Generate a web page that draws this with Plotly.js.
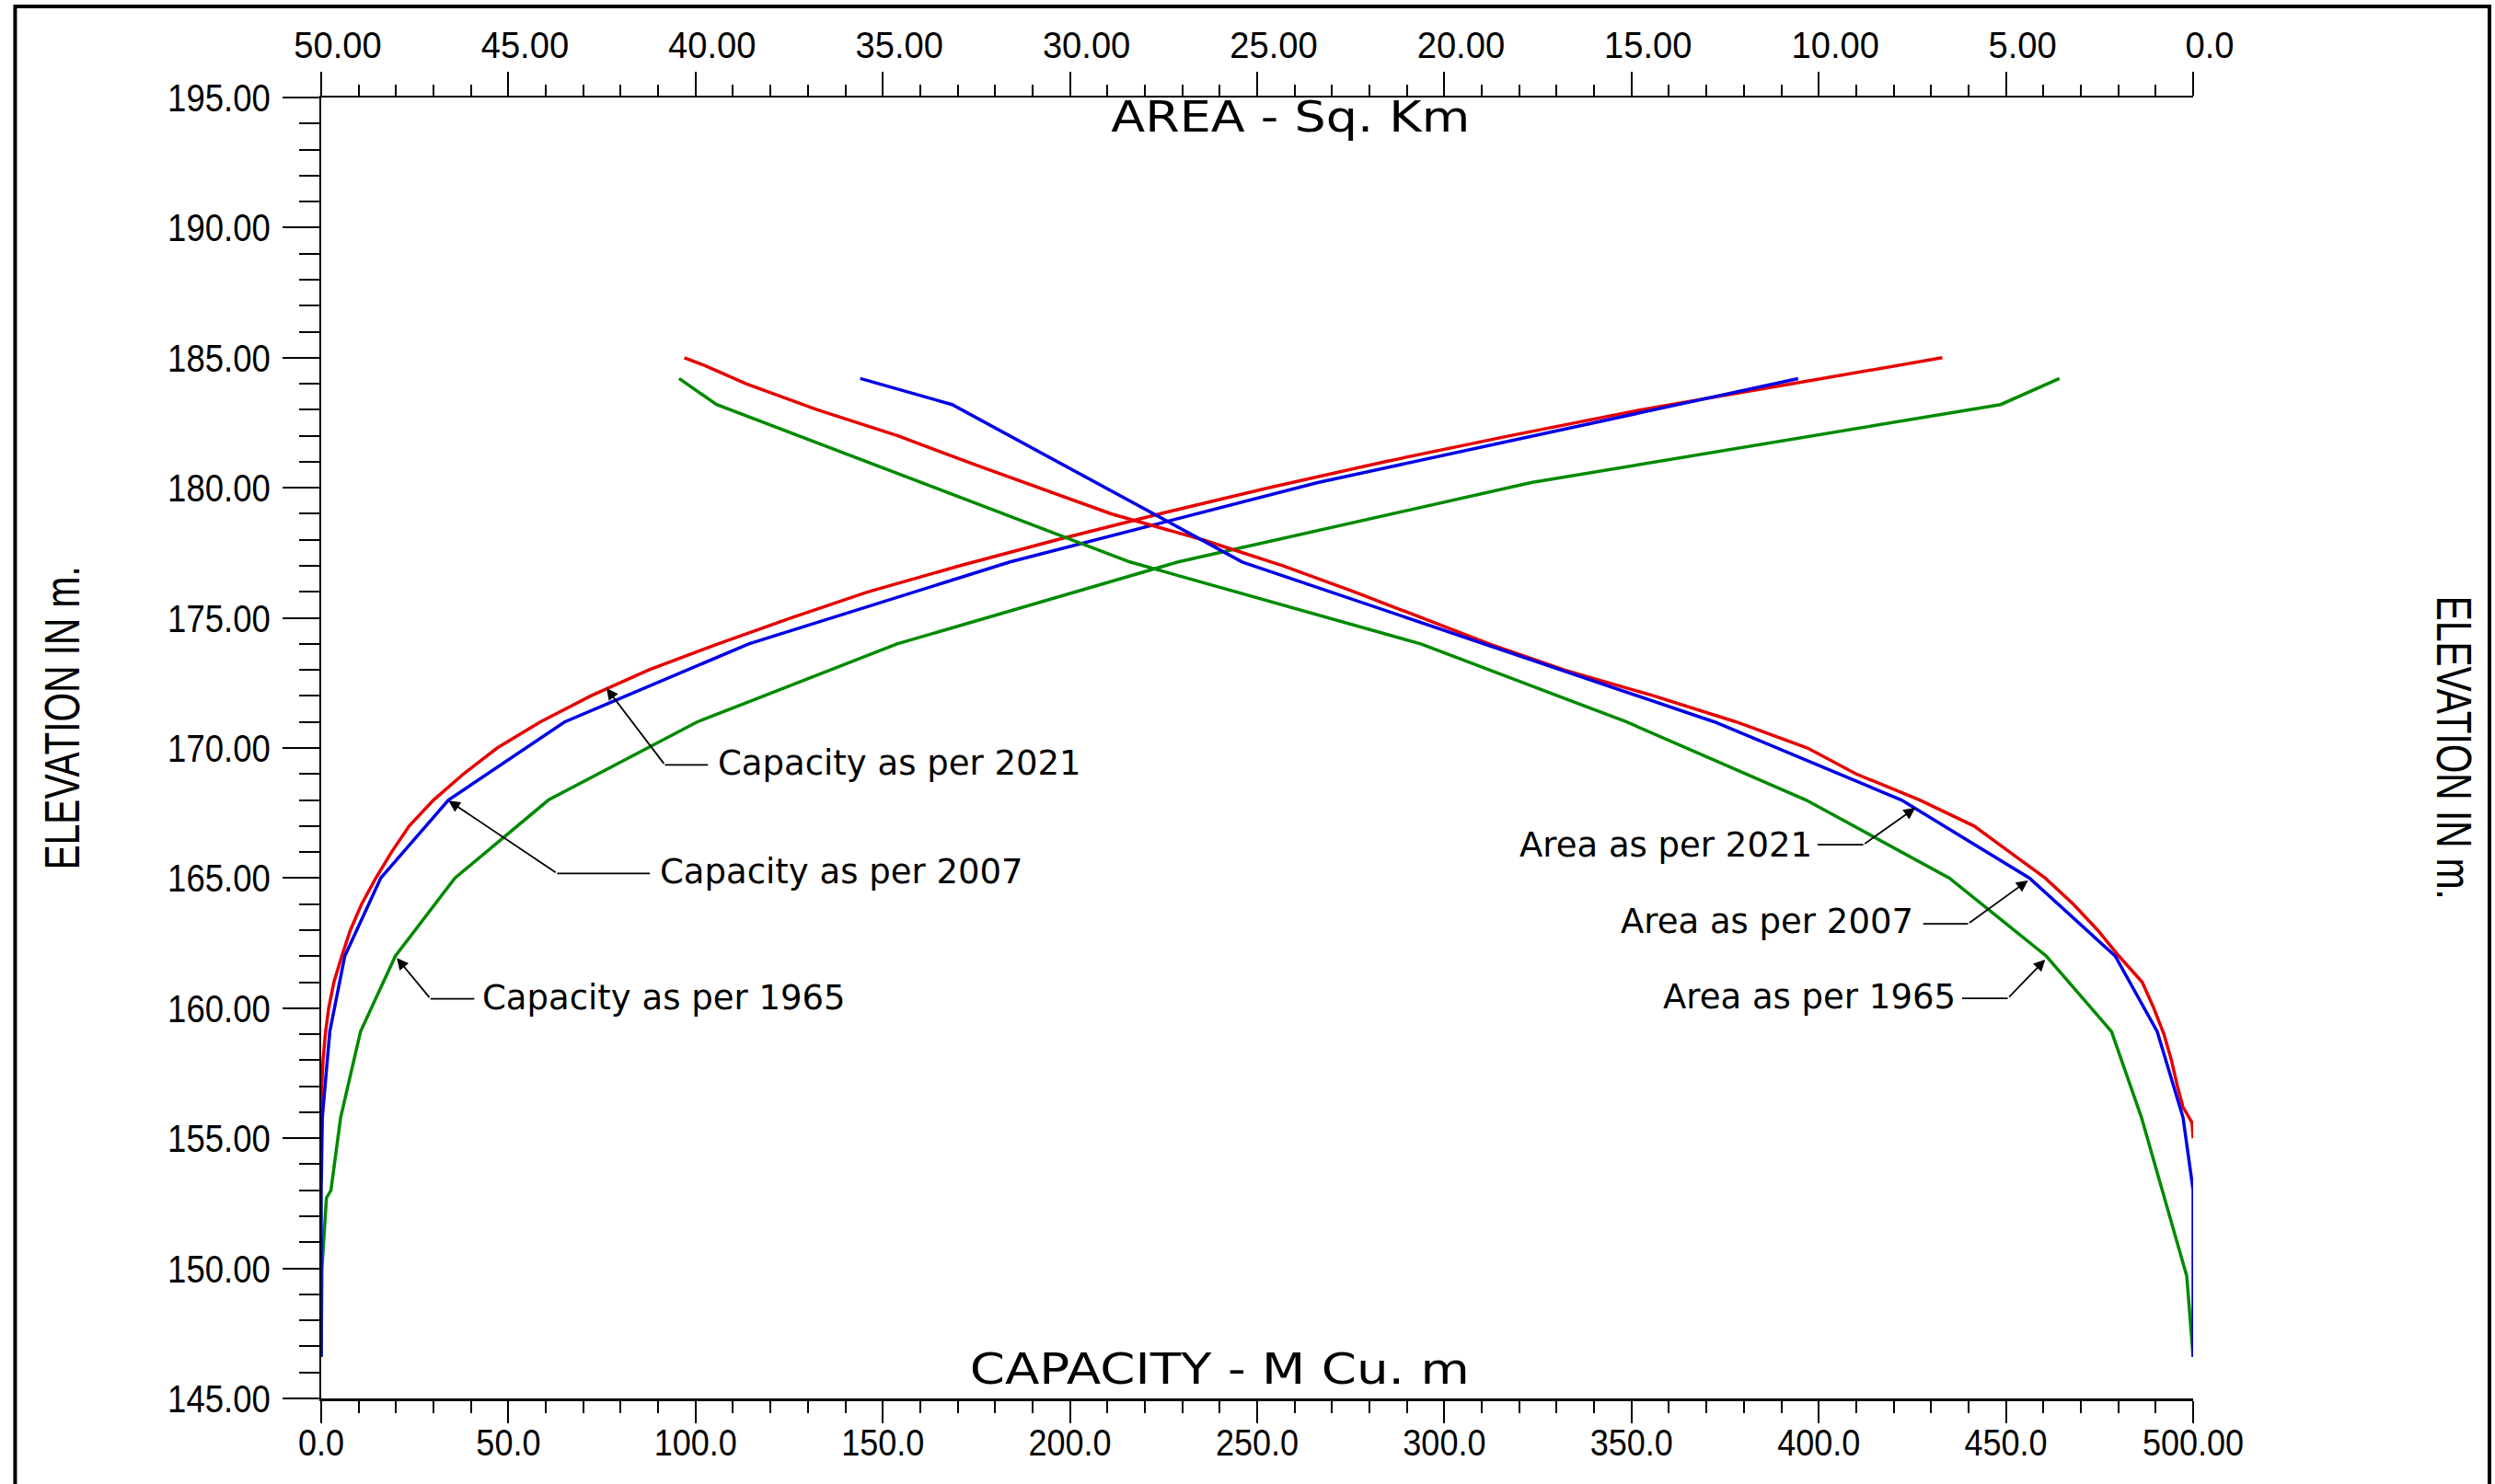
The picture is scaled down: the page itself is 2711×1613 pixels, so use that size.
<!DOCTYPE html>
<html>
<head>
<meta charset="utf-8">
<script src="https://cdn.plot.ly/plotly-3.0.1.min.js"></script>
<style>html,body{margin:0;padding:0;background:#fff;} #chart{width:2711px;height:1613px;}</style>
</head>
<body>
<div id="chart"></div>
<script>
// ---------------- DATA ----------------
// Capacity (M Cu. m) vs elevation (m)
const cap2021Elev = [155,156,157,158,159,160,161,162,163,164,165,166,167,168,169,170,171,172,173,174,175,176,177,178,179,180,181,182,183,184,185];
const cap2021     = [0,0.1,0.15,0.5,1.1,2.0,3.4,5.5,7.8,10.8,14.6,18.8,23.5,30.0,38.0,47.0,58.5,72.0,87.5,106.0,125.5,146.0,170.5,196.5,224.0,253.0,284.0,317.5,352.5,393.0,433.0];

const cap2007Elev = [146.6,153.0,155.8,159.1,162.0,165.0,168.0,171.0,174.0,177.15,180.2,184.2];
const cap2007     = [0,0,0.3,2.3,6.3,15.9,34.0,65.0,114.2,184.0,266.2,394.5];

const cap1965Elev = [146.6,150.0,152.7,153.0,155.8,159.1,162.0,165.0,168.0,171.0,174.0,177.15,180.2,183.2,184.2];
const cap1965     = [0,0.2,1.4,2.6,5.2,10.5,19.8,35.7,60.7,100.4,153.8,228.9,323.2,448.6,464.3];

// Area (Sq. Km) vs elevation (m)
const area2021Elev = [155,155.6,156.2,157,158,159,160,161,162,163,164,165,166,167,168,169,170,171,172,173,174,175,176,177,178,179,180,181,182,183,184,184.7,185];
const area2021     = [0,0.03,0.27,0.42,0.58,0.78,1.05,1.36,1.98,2.55,3.2,3.95,4.9,5.85,7.3,9.0,10.3,12.2,14.4,16.8,18.8,20.6,22.4,24.3,26.45,28.9,30.85,32.75,34.6,36.75,38.65,39.75,40.3];

const area2007Elev = [146.6,153.0,155.8,159.1,162.0,165.0,168.0,171.0,177.15,183.2,184.2];
const area2007     = [0,0,0.27,0.96,2.08,4.37,7.79,12.78,25.4,33.15,35.6];

const area1965Elev = [146.6,149.7,155.8,159.1,162.0,165.0,168.0,171.0,174.0,177.15,183.2,184.2];
const area1965     = [0,0.17,1.38,2.18,3.92,6.51,10.34,15.13,20.63,28.4,39.44,40.44];

// Tick values / labels
const capTickVals  = [0,50,100,150,200,250,300,350,400,450,500];
const capTickText  = ['0.0','50.0','100.0','150.0','200.0','250.0','300.0','350.0','400.0','450.0','500.00'];
const areaTickVals = [50,45,40,35,30,25,20,15,10,5,0];
const areaTickText = ['50.00','45.00','40.00','35.00','30.00','25.00','20.00','15.00','10.00','5.00','0.0'];
const elevTickVals = [145,150,155,160,165,170,175,180,185,190,195];
const elevTickText = ['145.00','150.00','155.00','160.00','165.00','170.00','175.00','180.00','185.00','190.00','195.00'];

const seriesNames = ['Capacity as per 1965','Area as per 1965','Capacity as per 2021','Area as per 2021','Capacity as per 2007','Area as per 2007'];

// ---------------- STYLE ----------------
const RED = '#e60000', BLUE = '#0000e6', GREEN = '#008a00';
const LW = 3.5;
const SANS = 'Liberation Sans, Arial, sans-serif';
const WIDE = 'DejaVu Sans, Verdana, sans-serif';

function tr(x, y, xa, color, name) {
  return {x: x, y: y, xaxis: xa, yaxis: 'y', type: 'scatter', mode: 'lines',
          line: {color: color, width: LW}, name: name, hoverinfo: 'skip'};
}
const traces = [
  tr(cap1965, cap1965Elev, 'x', GREEN, seriesNames[0]),
  tr(area1965, area1965Elev, 'x2', GREEN, seriesNames[1]),
  tr(cap2021, cap2021Elev, 'x', RED, seriesNames[2]),
  tr(area2021, area2021Elev, 'x2', RED, seriesNames[3]),
  tr(cap2007, cap2007Elev, 'x', BLUE, seriesNames[4]),
  tr(area2007, area2007Elev, 'x2', BLUE, seriesNames[5])
];

const axCommon = {
  ticks: 'outside', tickwidth: 2, tickcolor: '#000',
  showline: true, linecolor: '#000', linewidth: 2.5,
  showgrid: false, zeroline: false, fixedrange: true, automargin: false
};
function minor(dtick, len) {
  return {tickmode: 'linear', tick0: 0, dtick: dtick, ticks: 'outside', ticklen: len,
          tickwidth: 2, tickcolor: '#000', showgrid: false};
}

// Leader-line callouts: [text, axis, tipX, tipY, elbowX, elbowY, lineEndX, textX, textY, anchor]
const callouts = [
  ['Capacity as per 2021', 'x', 76.2, 172.3, 91.8, 169.35, 103.3, 105.4, 169.4, 'left'],
  ['Capacity as per 2007', 'x', 34.0, 167.98, 63.0, 165.18, 87.8, 89.9, 165.24, 'left'],
  ['Capacity as per 1965', 'x', 20.2, 161.93, 29.2, 160.36, 40.9, 42.6, 160.39, 'left'],
  ['Area as per 2021', 'x2', 7.42, 167.7, 8.81, 166.28, 10.03, 10.12, 166.27, 'right'],
  ['Area as per 2007', 'x2', 4.41, 164.91, 6.01, 163.24, 7.21, 7.42, 163.32, 'right'],
  ['Area as per 1965', 'x2', 3.95, 161.87, 4.95, 160.38, 6.17, 6.30, 160.44, 'right']
];

const annotations = [];
const shapes = [
  {type: 'rect', xref: 'paper', yref: 'paper', x0: -0.1635, x1: 1.1583, y0: -0.3, y1: 1.0700,
   line: {color: '#000', width: 4}, fillcolor: 'rgba(0,0,0,0)', layer: 'above'}
];
callouts.forEach(function (c) {
  annotations.push({xref: c[1], yref: 'y', axref: c[1], ayref: 'y', x: c[2], y: c[3], ax: c[4], ay: c[5],
    text: '', showarrow: true, arrowhead: 2, arrowsize: 1.4, arrowwidth: 1.8, arrowcolor: '#000', standoff: 0});
  shapes.push({type: 'line', xref: c[1], yref: 'y', x0: c[4], y0: c[5], x1: c[6], y1: c[5],
    line: {color: '#000', width: 1.8}});
  annotations.push({xref: c[1], yref: 'y', x: c[7], y: c[8], text: c[0], showarrow: false,
    xanchor: c[9], yanchor: 'middle', font: {family: WIDE, size: 37, color: '#000'}});
});

annotations.push(
  {xref: 'paper', yref: 'paper', x: 0.5177, y: 0.985, text: 'AREA - Sq. Km', showarrow: false,
   xanchor: 'center', yanchor: 'middle', font: {family: WIDE, size: 46, color: '#000'}},
  {xref: 'paper', yref: 'paper', x: 0.480, y: 0.0226, text: 'CAPACITY - M Cu. m', showarrow: false,
   xanchor: 'center', yanchor: 'middle', font: {family: WIDE, size: 46, color: '#000'}},
  {xref: 'paper', yref: 'paper', x: -0.1384, y: 0.5231, text: 'ELEVATION IN m.', showarrow: false,
   textangle: -90, xanchor: 'center', yanchor: 'middle', font: {family: SANS, size: 54, color: '#000'}},
  {xref: 'paper', yref: 'paper', x: 1.1396, y: 0.4998, text: 'ELEVATION IN m.', showarrow: false,
   textangle: 90, xanchor: 'center', yanchor: 'middle', font: {family: SANS, size: 54, color: '#000'}}
);

const layout = {
  width: 2711, height: 1613,
  margin: {l: 349, r: 328, t: 106, b: 93, pad: 0},
  paper_bgcolor: '#fff', plot_bgcolor: '#fff',
  showlegend: false,
  xaxis: Object.assign({}, axCommon, {
    range: [0, 500], tickmode: 'array', tickvals: capTickVals, ticktext: capTickText,
    ticklen: 24, ticklabelstandoff: -13,
    tickfont: {family: SANS, size: 40, color: '#000'}, minor: minor(10, 13)
  }),
  xaxis2: Object.assign({}, axCommon, {
    overlaying: 'x', side: 'top', anchor: 'y',
    range: [50, 0], tickmode: 'array', tickvals: areaTickVals, ticktext: areaTickText,
    ticklen: 26, ticklabelstandoff: -2, ticklabelshift: -18,
    tickfont: {family: SANS, size: 41, color: '#000'}, minor: minor(1, 12)
  }),
  yaxis: Object.assign({}, axCommon, {
    range: [145, 195], tickmode: 'array', tickvals: elevTickVals, ticktext: elevTickText,
    ticklen: 40, ticklabelstandoff: 4,
    tickfont: {family: SANS, size: 43, color: '#000'}, minor: minor(1, 22)
  }),
  yaxis2: Object.assign({}, axCommon, {
    overlaying: 'y', side: 'right', anchor: 'x',
    range: [145, 195], tickmode: 'array', tickvals: elevTickVals, ticktext: elevTickText,
    ticklen: 42, ticklabelstandoff: 0,
    tickfont: {family: SANS, size: 43, color: '#000'}, minor: minor(1, 23)
  }),
  shapes: shapes,
  annotations: annotations
};

// Horizontal width factors to mimic the drawing's condensed / extended lettering
const textFit = {'AREA - Sq. Km': 390, 'CAPACITY - M Cu. m': 543, 'ELEVATION IN m.': 330};
const tickSqueeze = {'xtick': 0.9, 'x2tick': 0.93, 'ytick': 0.85, 'y2tick': 0.85};

Plotly.newPlot('chart', traces, layout, {displayModeBar: false, staticPlot: true}).then(function (gd) {
  gd.querySelectorAll('text.annotation-text').forEach(function (t) {
    const L = textFit[t.textContent];
    if (L) { t.setAttribute('textLength', L); t.setAttribute('lengthAdjust', 'spacingAndGlyphs'); }
  });
  Object.keys(tickSqueeze).forEach(function (cls) {
    gd.querySelectorAll('g.' + cls + ' > text').forEach(function (t) {
      const L = t.getComputedTextLength();
      if (L > 0) {
        t.setAttribute('textLength', (L * tickSqueeze[cls]).toFixed(1));
        t.setAttribute('lengthAdjust', 'spacingAndGlyphs');
      }
    });
  });
});
</script>
</body>
</html>
